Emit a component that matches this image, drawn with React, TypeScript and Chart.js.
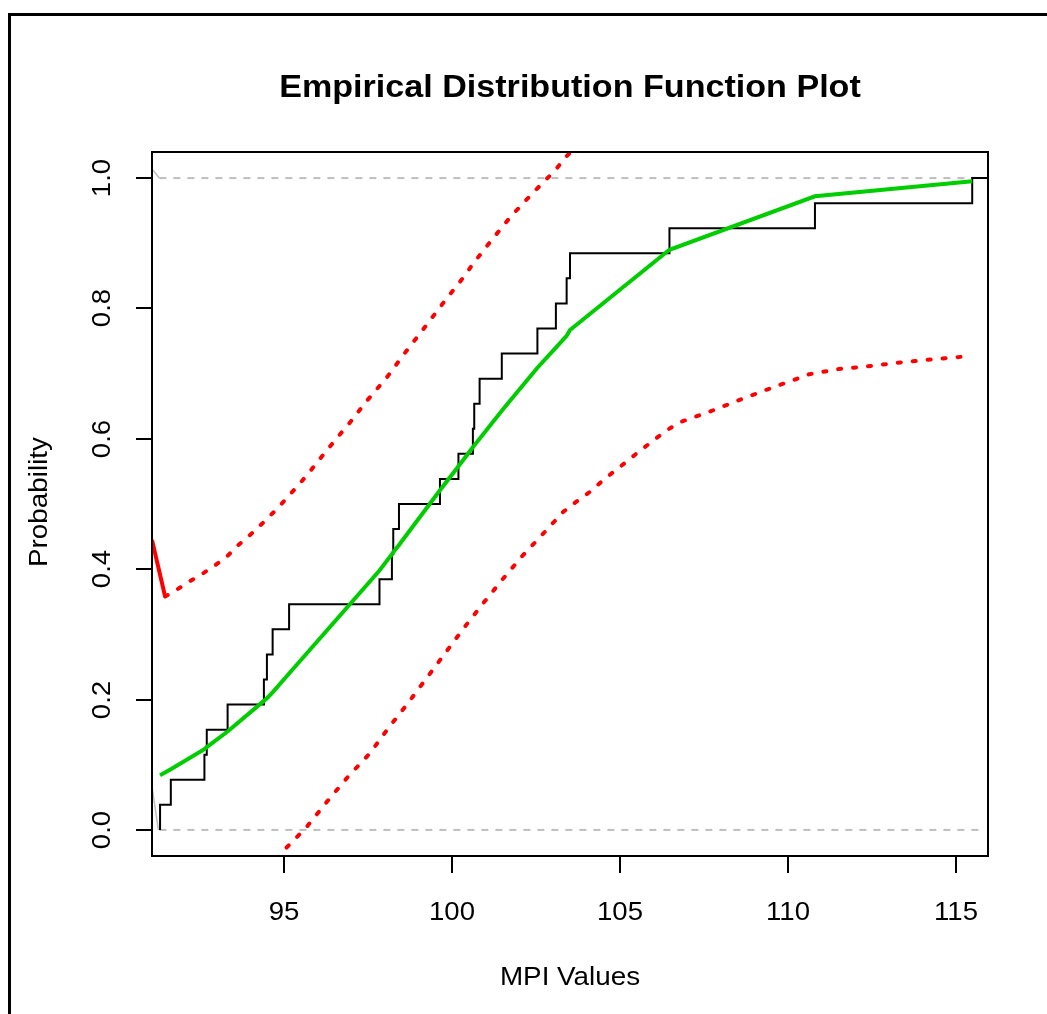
import React, { useEffect, useRef } from "react";
import { Chart, registerables } from "chart.js";

Chart.register(...registerables);

// ---- data ----
const mpiValues = [91.31, 91.63, 92.63, 92.7, 93.32, 94.4, 94.49, 94.66, 95.15, 97.84, 98.21, 98.25, 98.42, 99.64, 100.19, 100.62, 100.66, 100.82, 101.48, 102.54, 103.09, 103.41, 103.51, 106.47, 110.8, 115.48];
const ecdfProb = [0.0385, 0.0769, 0.1154, 0.1538, 0.1923, 0.2308, 0.2692, 0.3077, 0.3462, 0.3846, 0.4231, 0.4615, 0.5, 0.5385, 0.5769, 0.6154, 0.6538, 0.6923, 0.7308, 0.7692, 0.8077, 0.8462, 0.8846, 0.9231, 0.9615, 1.0];
const fittedProb = [0.084, 0.093, 0.124, 0.127, 0.151, 0.198, 0.202, 0.211, 0.24, 0.398, 0.423, 0.426, 0.437, 0.521, 0.558, 0.587, 0.59, 0.6, 0.643, 0.709, 0.74, 0.758, 0.767, 0.89, 0.972, 0.995];

const upperX = [91.46, 91.76, 92.18, 92.6, 92.95, 93.29, 93.64, 94.02, 94.35, 94.76, 95.08, 95.41, 95.71, 96.0, 96.3, 96.6, 96.9, 97.46, 98.07, 98.57, 99.2, 99.82, 100.39, 100.63, 101.18, 101.73, 102.4, 103.07, 103.33, 103.8];
const upperP = [0.358, 0.367, 0.381, 0.394, 0.406, 0.419, 0.437, 0.454, 0.47, 0.491, 0.509, 0.528, 0.546, 0.565, 0.584, 0.603, 0.621, 0.658, 0.695, 0.73, 0.772, 0.814, 0.851, 0.869, 0.905, 0.94, 0.977, 1.012, 1.029, 1.055];

const lowerX = [94.8, 95.0, 95.38, 95.68, 96.32, 96.91, 97.56, 98.1, 98.65, 99.2, 99.49, 100.34, 100.93, 101.48, 102.07, 102.72, 103.31, 103.71, 104.11, 104.55, 105.0, 105.6, 106.36, 106.76, 107.63, 108.47, 109.34, 110.21, 110.63, 111.5, 112.34, 113.33, 114.32, 115.42];
const lowerP = [-0.045, -0.031, -0.011, 0.005, 0.046, 0.082, 0.118, 0.156, 0.192, 0.23, 0.25, 0.309, 0.348, 0.383, 0.419, 0.455, 0.488, 0.504, 0.519, 0.539, 0.557, 0.582, 0.612, 0.625, 0.641, 0.658, 0.675, 0.691, 0.699, 0.707, 0.711, 0.717, 0.722, 0.727];

const redSolidX = [91.07, 91.46];
const redSolidP = [0.445, 0.358];

const refLineX = [91.29, 115.75];
const refLevels = [0, 1];

const grayTopX = [91.07, 91.29];
const grayTopP = [1.014, 1.0];
const grayBottomX = [91.07, 91.26];
const grayBottomP = [0.066, 0.0];

const xMin = 91.07;
const xMax = 115.95;
const yMin = -0.04;
const yMax = 1.04;

const xTicks = [95, 100, 105, 110, 115];
const yTicks = [0, 0.2, 0.4, 0.6, 0.8, 1.0];

const titleText = "Empirical Distribution Function Plot";
const xTitle = "MPI Values";
const yTitle = "Probability";

const FONT = '"Liberation Sans", Arial, Helvetica, sans-serif';

function pts(xs: number[], ys: number[]) {
  return xs.map((x, i) => ({ x, y: ys[i] }));
}

function drawText(ctx: CanvasRenderingContext2D, text: string, x: number, y: number, rot: number, sx: number) {
  ctx.save();
  ctx.translate(x, y);
  ctx.rotate(rot);
  ctx.scale(sx, 1);
  ctx.fillText(text, 0, 0);
  ctx.restore();
}

const decorPlugin = {
  id: "decor",
  afterDraw(chart: any) {
    const { ctx, chartArea: a, scales } = chart;
    const x = scales.x;
    const y = scales.y;
    ctx.save();
    // outer frame
    ctx.strokeStyle = "#000";
    ctx.lineWidth = 3;
    ctx.strokeRect(9.5, 14.5, 3000, 3000);
    // plot box
    ctx.lineWidth = 2;
    ctx.strokeRect(a.left, a.top, a.right - a.left, a.bottom - a.top);

    ctx.fillStyle = "#000";
    ctx.font = `26px ${FONT}`;
    ctx.textAlign = "center";
    ctx.textBaseline = "middle";
    // x ticks + labels
    for (const v of xTicks) {
      const px = Math.round(x.getPixelForValue(v));
      ctx.beginPath();
      ctx.moveTo(px, a.bottom);
      ctx.lineTo(px, a.bottom + 17);
      ctx.stroke();
      drawText(ctx, String(v), px, 913, 0, 1.06);
    }
    // y ticks + labels (rotated)
    for (const v of yTicks) {
      const py = Math.round(y.getPixelForValue(v));
      ctx.beginPath();
      ctx.moveTo(a.left - 16, py);
      ctx.lineTo(a.left, py);
      ctx.stroke();
      drawText(ctx, v.toFixed(1), 103, py, -Math.PI / 2, 1.06);
    }
    // axis titles
    const cx = (a.left + a.right) / 2;
    const cy = (a.top + a.bottom) / 2;
    drawText(ctx, xTitle, cx, 978, 0, 1.07);
    drawText(ctx, yTitle, 40, cy - 2, -Math.PI / 2, 1.07);
    // main title
    ctx.font = `bold 31px ${FONT}`;
    drawText(ctx, titleText, cx, 88, 0, 1.1);
    ctx.restore();
  },
};

export default function App() {
  const ref = useRef<HTMLCanvasElement | null>(null);
  useEffect(() => {
    if (!ref.current) return;
    const ecdfData = [{ x: mpiValues[0], y: 0 }, ...pts(mpiValues, ecdfProb), { x: xMax, y: 1 }];
    const red = "#FF0000";
    const gray = "#BEBEBE";
    const dotted = { borderColor: red, borderWidth: 4, borderDash: [3, 12], borderCapStyle: "round" as const };
    const chart = new Chart(ref.current, {
      type: "line",
      data: {
        datasets: [
          { label: "Upper band", data: pts(upperX, upperP), ...dotted },
          { label: "Lower band", data: pts(lowerX, lowerP), ...dotted },
          { label: "Upper band start", data: pts(redSolidX, redSolidP), borderColor: red, borderWidth: 4 },
          { label: "Fitted CDF", data: pts(mpiValues, fittedProb), borderColor: "#00CD00", borderWidth: 4 },
          { label: "ECDF", data: ecdfData, borderColor: "#000", borderWidth: 2, stepped: "before" as const },
          ...refLevels.map((lv) => ({
            label: `ref ${lv}`,
            data: refLineX.map((xv) => ({ x: xv, y: lv })),
            borderColor: gray,
            borderWidth: 2,
            borderDash: [7, 7],
          })),
          { label: "gray top", data: pts(grayTopX, grayTopP), borderColor: gray, borderWidth: 1.5 },
          { label: "gray bottom", data: pts(grayBottomX, grayBottomP), borderColor: gray, borderWidth: 1.5 },
        ].map((d: any) => ({ ...d, pointRadius: 0, fill: false, tension: 0, clip: 0 })),
      },
      options: {
        responsive: false,
        devicePixelRatio: 1,
        animation: false,
        layout: { padding: { left: 152, top: 152, right: 59, bottom: 158 } },
        plugins: { legend: { display: false }, title: { display: false }, tooltip: { enabled: false } },
        scales: {
          x: { type: "linear", min: xMin, max: xMax, display: false },
          y: { type: "linear", min: yMin, max: yMax, display: false },
        },
      },
      plugins: [decorPlugin],
    });
    return () => chart.destroy();
  }, []);
  return (
    <div style={{ position: "absolute", left: 0, top: 0, width: 1047, height: 1014, background: "#fff" }}>
      <canvas ref={ref} width={1047} height={1014} style={{ display: "block" }} />
    </div>
  );
}
